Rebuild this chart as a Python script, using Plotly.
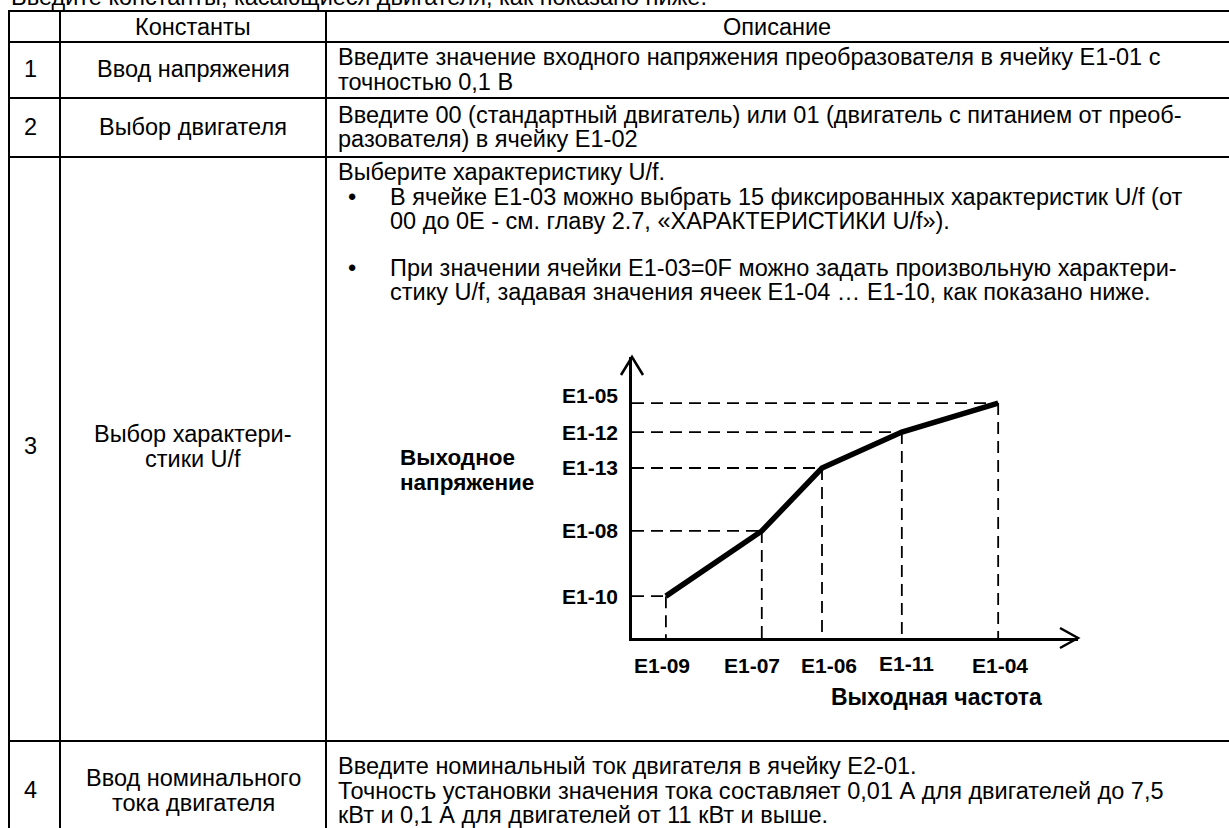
import plotly.graph_objects as go

W, H = 1229, 828

# ---------------- data ----------------
freq_labels = ["E1-09", "E1-07", "E1-06", "E1-11", "E1-04"]
freq_values = [7.6, 29.1, 42.6, 60.5, 82.1]
volt_labels = ["E1-10", "E1-08", "E1-13", "E1-12", "E1-05"]
volt_values = [14.9, 38.1, 60.5, 73.3, 83.6]

title_text = "Введите константы, касающиеся двигателя, как показано ниже."
header_labels = ["Константы", "Описание"]
row_numbers = ["1", "2", "3", "4"]
row_constants = [
    ["Ввод напряжения"],
    ["Выбор двигателя"],
    ["Выбор характери-", "стики U/f"],
    ["Ввод номинального", "тока двигателя"],
]
row1_desc = ["Введите значение входного напряжения преобразователя в ячейку E1-01 с",
             "точностью 0,1 В"]
row2_desc = ["Введите 00 (стандартный двигатель) или 01 (двигатель с питанием от преоб-",
             "разователя) в ячейку E1-02"]
row3_intro = "Выберите характеристику U/f."
row3_bullets = [
    ["В ячейке E1-03 можно выбрать 15 фиксированных характеристик U/f (от",
     "00 до 0E - см. главу 2.7, «ХАРАКТЕРИСТИКИ U/f»)."],
    ["При значении ячейки E1-03=0F можно задать произвольную характери-",
     "стику U/f, задавая значения ячеек E1-04 … E1-10, как показано ниже."],
]
row4_desc = ["Введите номинальный ток двигателя в ячейку E2-01.",
             "Точность установки значения тока составляет 0,01 А для двигателей до 7,5",
             "кВт и 0,1 А для двигателей от 11 кВт и выше."]
y_axis_title = ["Выходное", "напряжение"]
x_axis_title = "Выходная частота"

# ---------------- layout geometry (pixels) ----------------
FONT = "Liberation Sans, Arial, Helvetica, sans-serif"
BODY = 23.5
BOLD = 21
TITLE_B = 22.5
LW = 2
PITCH = 24.5

h_lines = [11, 42, 98, 157, 741]
v_lines = [9, 60, 326]
col2_c = 193
col3_c = 777
col3_x = 336
bullet_x = 346
indent_x = 388
num_x = 30

CX0, CX1 = 632, 1078   # chart axis span (px)
CY0, CY1 = 638, 357

xlab_dx = [-4, -10, 7, 5, 2]
xlab_dy = [0, 0, 0, 2, 0]


def px(x):
    return x / W


def py(y):
    return 1 - y / H


fig = go.Figure()

# guide dashes from data
gx, gy = [], []
for f, v in zip(freq_values, volt_values):
    gx += [0, f, None, f, f, None]
    gy += [v, v, None, v, 0, None]
fig.add_trace(go.Scatter(x=gx, y=gy, mode="lines", xaxis="x2", yaxis="y2",
                         line=dict(color="black", width=1.8, dash="12px,7px"),
                         hoverinfo="skip"))
fig.add_trace(go.Scatter(x=freq_values, y=volt_values, mode="lines", xaxis="x2", yaxis="y2",
                         line=dict(color="black", width=5.5), hoverinfo="skip"))

shapes = []
for y in h_lines:
    shapes.append(dict(type="line", xref="paper", yref="paper", x0=px(v_lines[0] - 1), x1=1.0,
                       y0=py(y), y1=py(y), line=dict(color="black", width=LW)))
for x in v_lines:
    shapes.append(dict(type="line", xref="paper", yref="paper", x0=px(x), x1=px(x),
                       y0=py(h_lines[0]), y1=0, line=dict(color="black", width=LW)))
# arrow heads
shapes.append(dict(type="path", xref="paper", yref="paper",
                   path=f"M {px(CX0-11)},{py(CY1+18)} L {px(CX0)},{py(CY1)} L {px(CX0+11)},{py(CY1+18)}",
                   line=dict(color="black", width=2.5)))
shapes.append(dict(type="path", xref="paper", yref="paper",
                   path=f"M {px(CX1-18)},{py(CY0-10)} L {px(CX1)},{py(CY0)} L {px(CX1-18)},{py(CY0+10)}",
                   line=dict(color="black", width=2.5)))

ann = []


def text(x, y, s, anchor="left", size=BODY, bold=False):
    ann.append(dict(x=px(x), y=py(y), xref="paper", yref="paper", text=f"<b>{s}</b>" if bold else s,
                    showarrow=False, xanchor=anchor, yanchor="middle",
                    font=dict(family=FONT, size=size, color="black")))


text(9, -3, title_text)
text(col2_c, 27, header_labels[0], "center")
text(col3_c, 27, header_labels[1], "center")

# row 1
text(num_x, 69, row_numbers[0], "center")
text(col2_c, 69, row_constants[0][0], "center")
for i, s in enumerate(row1_desc):
    text(col3_x, 57 + PITCH * i, s)
# row 2
text(num_x, 127, row_numbers[1], "center")
text(col2_c, 127, row_constants[1][0], "center")
for i, s in enumerate(row2_desc):
    text(col3_x, 115 + PITCH * i, s)
# row 3
text(num_x, 446, row_numbers[2], "center")
for i, s in enumerate(row_constants[2]):
    text(col2_c, 434 + PITCH * i, s, "center")
text(col3_x, 172, row3_intro)
b_y = [172 + PITCH, 172 + PITCH * 3 + 22]
for by, lines in zip(b_y, row3_bullets):
    text(bullet_x, by, "•")
    for i, s in enumerate(lines):
        text(indent_x, by + PITCH * i, s)
# row 4
text(num_x, 790, row_numbers[3], "center")
for i, s in enumerate(row_constants[3]):
    text(col2_c, 778 + PITCH * i, s, "center")
for i, s in enumerate(row4_desc):
    text(col3_x, 766 + PITCH * i, s)

# chart labels
for lab, v in zip(volt_labels, volt_values):
    ann.append(dict(x=0, y=v, xref="x2", yref="y2", text=f"<b>{lab}</b>", showarrow=False,
                    xanchor="right", yanchor="middle", xshift=-12,
                    yshift=8 if lab == "E1-05" else 0,
                    font=dict(family=FONT, size=BOLD, color="black")))
for lab, f, dx, dy in zip(freq_labels, freq_values, xlab_dx, xlab_dy):
    ann.append(dict(x=f, y=0, xref="x2", yref="y2", text=f"<b>{lab}</b>", showarrow=False,
                    xanchor="center", yanchor="middle", yshift=-27 + dy, xshift=dx,
                    font=dict(family=FONT, size=BOLD, color="black")))
text(398, 457.5, y_axis_title[0], bold=True, size=TITLE_B)
text(398, 482.5, y_axis_title[1], bold=True, size=TITLE_B)
text(936, 697, x_axis_title, "center", bold=True, size=TITLE_B + 0.5)

axis_common = dict(showgrid=False, zeroline=False, showticklabels=False, ticks="",
                   showline=True, linecolor="black", linewidth=2.5, range=[0, 100], fixedrange=True)
fig.update_layout(
    width=W, height=H, margin=dict(l=0, r=0, t=0, b=0),
    paper_bgcolor="white", plot_bgcolor="rgba(0,0,0,0)", showlegend=False,
    xaxis=dict(visible=False), yaxis=dict(visible=False),
    xaxis2=dict(domain=[px(CX0), px(CX1)], anchor="y2", **axis_common),
    yaxis2=dict(domain=[py(CY0), py(CY1)], anchor="x2", **axis_common),
    shapes=shapes, annotations=ann,
)

fig.write_html("out.html", config={"displayModeBar": False},
               post_script="document.body.style.margin='0';document.body.style.overflow='hidden';")
